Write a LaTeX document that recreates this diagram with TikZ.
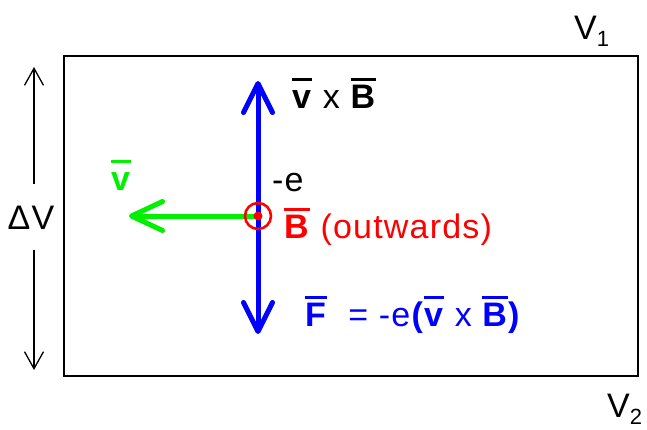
\documentclass[tikz,border=0pt]{standalone}
\usepackage{fontspec}
\setmainfont{Liberation Sans}[LetterSpace=3.5]
\usetikzlibrary{arrows.meta}
\newcommand\ob[1]{\vbox{\hrule height 3pt\kern 3.5pt\hbox{\vphantom{B}#1}}}
\definecolor{vgreen}{RGB}{0,240,0}
\begin{document}
\begin{tikzpicture}[x=1pt,y=-1pt,
  lbl/.style={inner sep=0pt,anchor=base west,font=\fontsize{34}{40}\selectfont},
  bluearrow/.style={draw=blue,line width=5pt,line cap=round,-{Straight Barb[length=29pt,width=29pt,round]}},
  greenarrow/.style={draw=vgreen,line width=5pt,line cap=round,-{Straight Barb[length=31pt,width=29pt,round]}},
  blackarrow/.style={draw=black,line width=1.3pt,-{Straight Barb[length=17pt,width=19pt]}}]
\useasboundingbox (0,0) rectangle (647,429);
% box
\node[draw,line width=1.6pt,minimum width=574pt,minimum height=320pt,inner sep=0pt] (box) at (351,216) {};
% charge
\coordinate (e) at (258,216);
\coordinate (top) at (258,81);
\coordinate (bot) at (258,334);
\coordinate (vtip) at (129,216);
\draw[bluearrow] (e) -- (top);
\draw[bluearrow] (e) -- (bot);
\draw[greenarrow] (e) -- (vtip);
\draw[red,line width=2.6pt] (e) circle (13pt);
\fill[red] (e) circle (4.5pt);
% labels
\node[lbl] (vxb) at (292,108) {\ob{\textbf{v}} x \ob{\textbf{B}}};
\node[lbl] (q) at (272,191) {-e};
\node[lbl,text=red] (bout) at (284,238) {\ob{\textbf{B}} (outwards)};
\node[lbl,text=blue] (force) at (305,326) {\ob{\textbf{F}}\ \ = -e\textbf{(}\ob{\textbf{v}} x \ob{\textbf{B}}\textbf{)}};
\node[lbl,text=vgreen] (vlab) at (111,190) {\ob{\textbf{v}}};
% potential
\node[lbl,anchor=base] (dv) at (31,229) {ΔV};
\coordinate (dvtopstart) at (34,184);
\coordinate (dvbotstart) at (34,250);
\coordinate (dvtop) at (34,67);
\coordinate (dvbot) at (34,370);
\draw[blackarrow] (dvtopstart) -- (dvtop);
\draw[blackarrow] (dvbotstart) -- (dvbot);
\node[lbl] (v1) at (574,39) {V\raisebox{-0.22em}{\fontsize{22}{22}\selectfont 1}};
\node[lbl] (v2) at (607,417) {V\raisebox{-0.22em}{\fontsize{22}{22}\selectfont 2}};
\end{tikzpicture}
\end{document}
